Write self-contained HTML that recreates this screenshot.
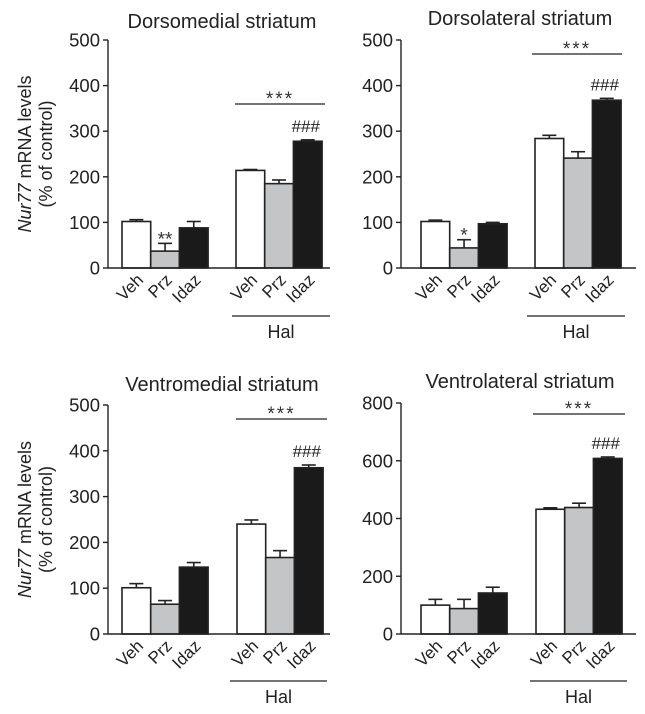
<!DOCTYPE html>
<html><head><meta charset="utf-8"><style>
body{margin:0;background:#fff;}
svg{display:block;font-family:"Liberation Sans",Arial,sans-serif;}
</style></head><body>
<svg id="fig" width="645" height="714" viewBox="0 0 645 714"></svg>
<script>
const categories = ["Veh","Prz","Idaz","Veh","Prz","Idaz"];
const fills = ["#fff","#c4c5c7","#1a1a1a","#fff","#c4c5c7","#1a1a1a"];
const dmValues = [102,37,88,214,185,278];
const dmErrors = [4,17,14,2,8,3];
const dlValues = [102,44,97,284,241,368];
const dlErrors = [3,18,3,7,14,4];
const vmValues = [101,65,146,240,167,363];
const vmErrors = [9,8,10,9,15,6];
const vlValues = [100,88,142,432,438,608];
const vlErrors = [20,32,20,5,15,5];
const ticks500 = [0,100,200,300,400,500];
const ticks800 = [0,200,400,600,800];
const lowMarks = {dm:"**", dl:"*"};

const NS="http://www.w3.org/2000/svg";
const svg=document.getElementById('fig');
function mk(tag,attrs,parent){const e=document.createElementNS(NS,tag);for(const k in attrs)e.setAttribute(k,attrs[k]);(parent||svg).appendChild(e);return e;}

const panels=[
 {key:"dm",title:"Dorsomedial striatum",ax:108,y0:268,yTop:40,max:500,ticks:ticks500,vals:dmValues,errs:dmErrors,g1:122,g2:236,bw:28.7,axEnd:330,sigY:104,sig:[235,325],halY:316,hal:[232,330],tx:222,ty:28,ylab:true},
 {key:"dl",title:"Dorsolateral striatum",ax:401,y0:268,yTop:40,max:500,ticks:ticks500,vals:dlValues,errs:dlErrors,g1:421,g2:535,bw:28.7,axEnd:636,sigY:54,sig:[532,622],halY:316,hal:[527,625],tx:520,ty:25,ylab:false},
 {key:"vm",title:"Ventromedial striatum",ax:108,y0:634,yTop:405,max:500,ticks:ticks500,vals:vmValues,errs:vmErrors,g1:122,g2:237,bw:28.7,axEnd:330,sigY:419,sig:[236,327],halY:681,hal:[230,327],tx:222,ty:391,ylab:true},
 {key:"vl",title:"Ventrolateral striatum",ax:401,y0:634,yTop:403,max:800,ticks:ticks800,vals:vlValues,errs:vlErrors,g1:421,g2:536,bw:28.7,axEnd:636,sigY:414,sig:[533,625],halY:681,hal:[530,627],tx:520,ty:388,ylab:false}
];

panels.forEach(p=>{
 const g=mk('g',{});
 
 
 const y=v=>p.y0-(v/p.max)*(p.y0-p.yTop);
 const t=mk('text',{x:p.tx,y:p.ty,'text-anchor':'middle','font-size':20,fill:'#222'},g);t.textContent=p.title;
 
 const ya=mk('line',{x1:p.ax,y1:p.yTop,x2:p.ax,y2:p.y0,stroke:'#222','stroke-width':1.4},g);
 
 p.ticks.forEach(v=>{
  mk('line',{x1:p.ax-5,y1:y(v),x2:p.ax,y2:y(v),stroke:'#222','stroke-width':1.4},g);
  const tl=mk('text',{x:p.ax-8,y:y(v)+6.5,'text-anchor':'end','font-size':18.5,fill:'#222'},g);tl.textContent=v;
  
 });
 p.vals.forEach((v,i)=>{
  const x=(i<3?p.g1:p.g2)+(i%3)*p.bw;
  const top=y(v), et=y(v+p.errs[i]), cx=x+p.bw/2;
  mk('line',{x1:cx,y1:et,x2:cx,y2:top,stroke:'#222','stroke-width':1.6},g);
  mk('line',{x1:cx-7,y1:et,x2:cx+7,y2:et,stroke:'#222','stroke-width':1.6},g);
  const r=mk('rect',{x:x,y:top,width:p.bw,height:p.y0-top,fill:fills[i],stroke:'#222','stroke-width':1.6},g);
  
  
  const lb=mk('text',{x:0,y:0,'text-anchor':'end','font-size':17,fill:'#222',transform:`translate(${cx+8},${p.y0+13}) rotate(-45)`},g);
  lb.textContent=categories[i];
  
  if(i===1&&lowMarks[p.key]){const s=mk('text',{x:cx,y:et+2,'text-anchor':'middle','font-size':19,fill:'#333'},g);s.textContent=lowMarks[p.key];
   }
  if(i===5){const s=mk('text',{x:cx-2,y:et-8,'text-anchor':'middle','font-size':17,fill:'#222'},g);s.textContent='###';
   }
 });
 const xa=mk('line',{x1:p.ax,y1:p.y0,x2:p.axEnd,y2:p.y0,stroke:'#222','stroke-width':1.4},g);
 
 mk('line',{x1:p.sig[0],y1:p.sigY,x2:p.sig[1],y2:p.sigY,stroke:'#222','stroke-width':1.3},g);
 const st=mk('text',{x:(p.sig[0]+p.sig[1])/2,y:p.sigY+1,'text-anchor':'middle','font-size':19,fill:'#333','letter-spacing':2},g);st.textContent='***';
 
 mk('line',{x1:p.hal[0],y1:p.halY,x2:p.hal[1],y2:p.halY,stroke:'#222','stroke-width':1.3},g);
 const ht=mk('text',{x:(p.hal[0]+p.hal[1])/2,y:p.halY+22,'text-anchor':'middle','font-size':18,fill:'#222'},g);ht.textContent='Hal';
 
 if(p.ylab){
  const cy=(p.y0+p.yTop)/2;
  const a=mk('text',{x:0,y:0,'text-anchor':'middle','font-size':18,fill:'#222',transform:`translate(31,${cy}) rotate(-90)`},g);
  a.innerHTML='<tspan font-style="italic">Nur77</tspan> mRNA levels';
  
  const b=mk('text',{x:0,y:0,'text-anchor':'middle','font-size':18,fill:'#222',transform:`translate(52,${cy}) rotate(-90)`},g);
  b.textContent='(% of control)';
  
 }
});
</script>
</body></html>
